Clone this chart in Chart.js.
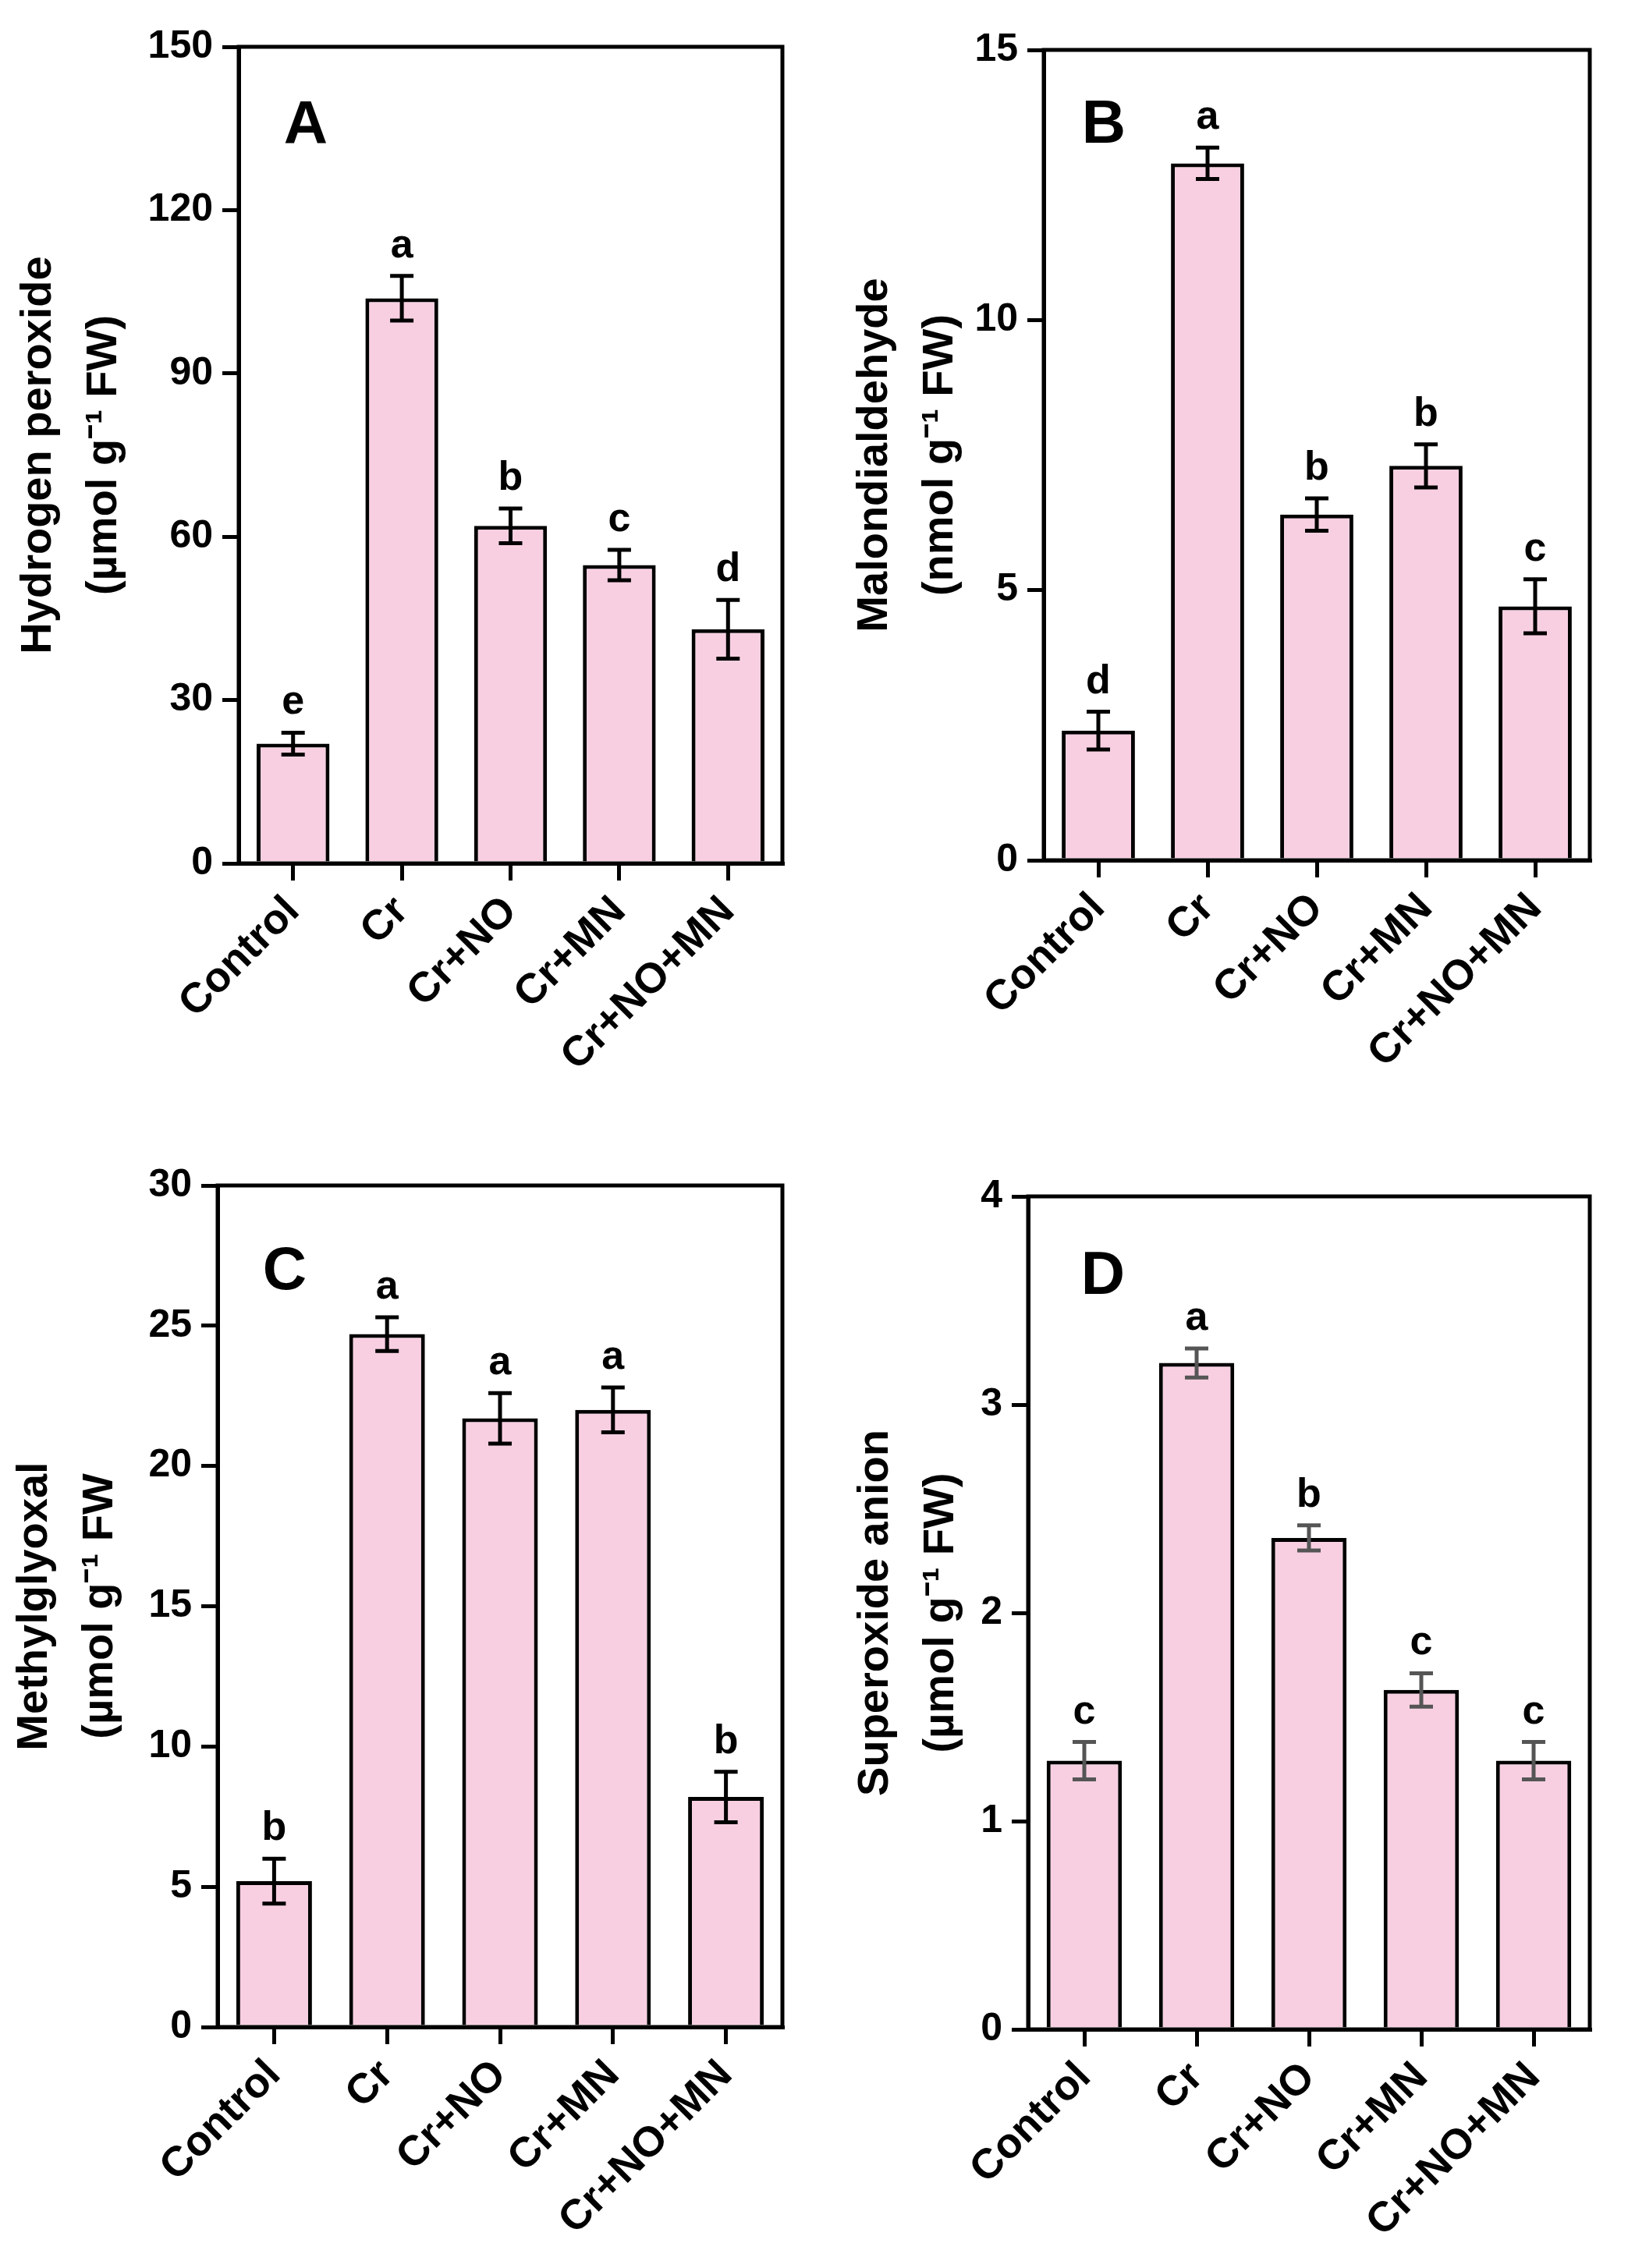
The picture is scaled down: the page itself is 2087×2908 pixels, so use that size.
<!DOCTYPE html>
<html>
<head>
<meta charset="utf-8">
<title>Cr stress markers</title>
<script src="https://cdn.jsdelivr.net/npm/chart.js@4.4.1/dist/chart.umd.min.js"></script>
<style>
  html, body { margin: 0; padding: 0; background: #fff; }
  body { width: 2087px; height: 2908px; position: relative; overflow: hidden; }
  canvas { position: absolute; }
</style>
</head>
<body>
<canvas id="chartA"></canvas>
<canvas id="chartB"></canvas>
<canvas id="chartC"></canvas>
<canvas id="chartD"></canvas>
<script>
'use strict';

const categories = ['Control', 'Cr', 'Cr+NO', 'Cr+MN', 'Cr+NO+MN'];

// A - hydrogen peroxide
const h2o2Values = [22, 103.8, 62, 54.8, 43];
const h2o2Errors = [2, 4.1, 3.2, 2.8, 5.4];
const h2o2Letters = ['e', 'a', 'b', 'c', 'd'];
const h2o2Ticks = [0, 30, 60, 90, 120, 150];

// B - malondialdehyde
const mdaValues = [2.4, 12.9, 6.4, 7.3, 4.7];
const mdaErrors = [0.35, 0.29, 0.3, 0.4, 0.5];
const mdaLetters = ['d', 'a', 'b', 'b', 'c'];
const mdaTicks = [0, 5, 10, 15];

// C - methylglyoxal
const mgValues = [5.2, 24.7, 21.7, 22, 8.2];
const mgErrors = [0.8, 0.6, 0.9, 0.8, 0.9];
const mgLetters = ['b', 'a', 'a', 'a', 'b'];
const mgTicks = [0, 5, 10, 15, 20, 25, 30];

// D - superoxide anion
const o2Values = [1.29, 3.2, 2.36, 1.63, 1.29];
const o2Errors = [0.09, 0.07, 0.06, 0.08, 0.09];
const o2Letters = ['c', 'a', 'b', 'c', 'c'];
const o2Ticks = [0, 1, 2, 3, 4];

const FONT = "'Liberation Sans', Arial, Helvetica, sans-serif";
const barPink = '#F8CFE1';

// draws frame, error bars, significance letters and the panel letter
const panelPlugin = {
  id: 'panelExtras',
  afterDatasetsDraw(chart, args, opts) {
    const ctx = chart.ctx;
    const yScale = chart.scales.y;
    const meta = chart.getDatasetMeta(0);
    const vals = chart.data.datasets[0].data;
    ctx.save();
    ctx.strokeStyle = opts.errColor;
    ctx.lineWidth = 5;
    ctx.lineCap = 'butt';
    for (let i = 0; i < meta.data.length; i++) {
      const x = meta.data[i].x;
      const top = yScale.getPixelForValue(vals[i] + opts.errors[i]);
      const bot = yScale.getPixelForValue(vals[i] - opts.errors[i]);
      ctx.beginPath();
      ctx.moveTo(x, top); ctx.lineTo(x, bot);
      ctx.moveTo(x - 15, top); ctx.lineTo(x + 15, top);
      ctx.moveTo(x - 15, bot); ctx.lineTo(x + 15, bot);
      ctx.stroke();

      ctx.fillStyle = '#000';
      ctx.font = 'bold 52px ' + FONT;
      ctx.textAlign = 'center';
      ctx.textBaseline = 'alphabetic';
      ctx.fillText(opts.letters[i], x, top - 24);
    }
    ctx.restore();
  },
  afterDraw(chart, args, opts) {
    const ctx = chart.ctx;
    const a = chart.chartArea;
    ctx.save();
    ctx.strokeStyle = '#000';
    ctx.lineWidth = 5;
    ctx.strokeRect(a.left, a.top, a.right - a.left, a.bottom - a.top);
    ctx.fillStyle = '#000';
    ctx.font = 'bold 78px ' + FONT;
    ctx.textAlign = 'center';
    ctx.textBaseline = 'middle';
    ctx.fillText(opts.panel, a.left + opts.panelDx, a.top + opts.panelDy);
    ctx.restore();
  }
};

function makePanel(id, box, cfg) {
  const canvas = document.getElementById(id);
  canvas.width = box.w;
  canvas.height = box.h;
  canvas.style.left = box.x + 'px';
  canvas.style.top = box.y + 'px';
  canvas.style.width = box.w + 'px';
  canvas.style.height = box.h + 'px';

  const tickFont = { family: FONT, size: 50, weight: 'bold' };

  return new Chart(canvas, {
    type: 'bar',
    data: {
      labels: categories,
      datasets: [{
        data: cfg.values,
        backgroundColor: barPink,
        borderColor: '#000',
        borderWidth: 5,
        barPercentage: 0.67,
        categoryPercentage: 1
      }]
    },
    options: {
      responsive: false,
      animation: false,
      devicePixelRatio: 1,
      layout: { padding: { left: 0, right: box.w - box.right, top: box.top, bottom: 0 } },
      plugins: {
        legend: { display: false },
        tooltip: { enabled: false },
        panelExtras: {
          errors: cfg.errors,
          letters: cfg.letters,
          errColor: cfg.errColor,
          panel: cfg.panel,
          panelDx: cfg.panelDx,
          panelDy: cfg.panelDy
        }
      },
      scales: {
        x: {
          offset: true,
          grid: { offset: false, drawOnChartArea: false, color: '#000', lineWidth: 5, tickLength: 22 },
          border: { color: '#000', width: 5 },
          ticks: {
            color: '#000',
            font: { family: FONT, size: 54, weight: 'bold' },
            minRotation: 45,
            maxRotation: 45,
            autoSkip: false,
            padding: 8
          },
          afterFit: s => { s.height = box.h - box.bottom; }
        },
        y: {
          min: 0,
          max: cfg.ticks[cfg.ticks.length - 1],
          afterBuildTicks: s => { s.ticks = cfg.ticks.map(v => ({ value: v })); },
          grid: { drawOnChartArea: false, color: '#000', lineWidth: 5, tickLength: 21 },
          border: { color: '#000', width: 5 },
          ticks: { color: '#000', font: tickFont, padding: 12 },
          title: {
            display: true,
            text: cfg.title,
            color: '#000',
            font: { family: FONT, size: 56, weight: 'bold', lineHeight: 1.5 },
            padding: { top: cfg.titlePad, bottom: 0 }
          },
          afterFit: s => { s.width = box.left; }
        }
      }
    },
    plugins: [panelPlugin]
  });
}

makePanel('chartA',
  { x: 0, y: 0, w: 1043, h: 1450, left: 306, right: 1003, top: 60, bottom: 1107 },
  { values: h2o2Values, errors: h2o2Errors, letters: h2o2Letters, ticks: h2o2Ticks,
    title: ['Hydrogen peroxide', '(µmol g⁻¹ FW)'], titlePad: 8,
    errColor: '#000', panel: 'A', panelDx: 86, panelDy: 102 });

makePanel('chartB',
  { x: 1043, y: 0, w: 1044, h: 1450, left: 295, right: 995, top: 64, bottom: 1103 },
  { values: mdaValues, errors: mdaErrors, letters: mdaLetters, ticks: mdaTicks,
    title: ['Malondialdehyde', '(nmol g⁻¹ FW)'], titlePad: 37,
    errColor: '#000', panel: 'B', panelDx: 77, panelDy: 97 });

makePanel('chartC',
  { x: 0, y: 1450, w: 1043, h: 1458, left: 279, right: 1003, top: 70, bottom: 1149 },
  { values: mgValues, errors: mgErrors, letters: mgLetters, ticks: mgTicks,
    title: ['Methylglyoxal', '(µmol g⁻¹ FW'], titlePad: 3,
    errColor: '#000', panel: 'C', panelDx: 86, panelDy: 111 });

makePanel('chartD',
  { x: 1043, y: 1450, w: 1044, h: 1458, left: 275, right: 995, top: 84, bottom: 1152 },
  { values: o2Values, errors: o2Errors, letters: o2Letters, ticks: o2Ticks,
    title: ['Superoxide anion', '(µmol g⁻¹ FW)'], titlePad: 38,
    errColor: '#555', panel: 'D', panelDx: 96, panelDy: 103 });
</script>
</body>
</html>
